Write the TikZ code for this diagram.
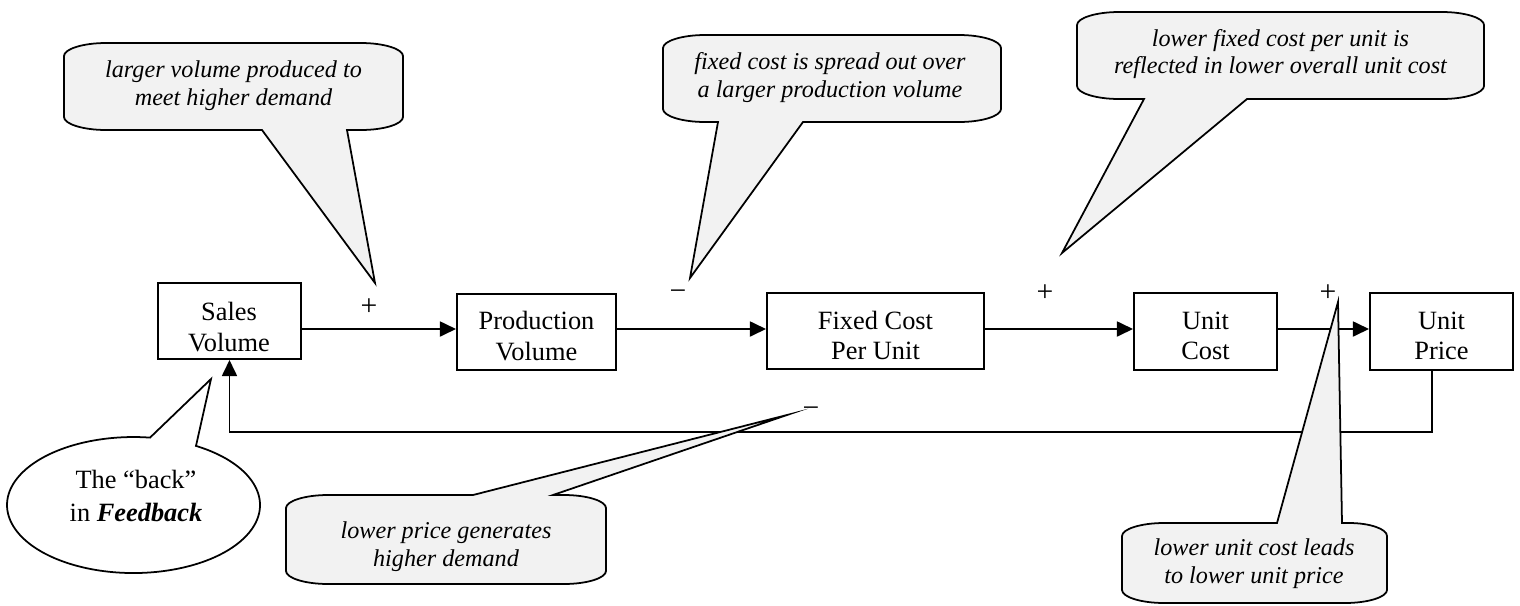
\documentclass[tikz,border=0pt]{standalone}
\usepackage{fontspec}
\setmainfont{Liberation Serif}
\usetikzlibrary{arrows.meta}
\definecolor{callfill}{HTML}{F2F2F2}
\begin{document}
\begin{tikzpicture}[x=0.455pt,y=-0.455pt,
  box/.style={draw,line width=0.9pt,inner sep=0pt},
  boxtext/.style={align=center,inner sep=0pt,font=\fontsize{12}{14}\selectfont},
  arr/.style={line width=0.9pt,-{Triangle[length=7.3pt,width=6.8pt]}},
  sign/.style={inner sep=0pt,font=\fontsize{13.5}{14}\selectfont},
  note/.style={align=center,inner sep=0pt,font=\fontsize{11}{12.65}\selectfont\itshape},
  bubble/.style={draw,line width=0.8pt,fill=callfill,line join=miter,miter limit=30},
  oval/.style={draw,line width=0.8pt,fill=white,line join=miter,miter limit=30},
]
\useasboundingbox (0,0) rectangle (1520,605);

% boxes
\node[box,minimum width=65.07pt,minimum height=34.58pt] (sales) at (229.5,321) {};
\node[box,minimum width=72.35pt,minimum height=34.58pt] (prod) at (536.5,332) {};
\node[box,minimum width=98.74pt,minimum height=34.58pt] (fixed) at (875.5,331) {};
\node[box,minimum width=65.07pt,minimum height=35.04pt] (ucost) at (1205.5,331.5) {};
\node[box,minimum width=65.07pt,minimum height=35.04pt] (uprice) at (1441.5,331.5) {};
\node[boxtext] (salesT) at (229,327) {Sales\\Volume};
\node[boxtext] (prodT) at (536.5,336) {Production\\Volume};
\node[boxtext] (fixedT) at (875.5,335.5) {Fixed Cost\\Per Unit};
\node[boxtext] (ucostT) at (1205.5,336) {Unit\\Cost};
\node[boxtext] (upriceT) at (1441.5,336) {Unit\\Price};

% connectors
\coordinate (ay) at (0,329);
\draw[arr] (sales.east |- ay) -- (prod.west |- ay);
\draw[arr] (prod.east |- ay) -- (fixed.west |- ay);
\draw[arr] (fixed.east |- ay) -- (ucost.west |- ay);
\draw[arr] (ucost.east |- ay) -- (uprice.west |- ay);
\coordinate (fbR) at (1432,432);
\coordinate (fbL) at (229.5,432);
\draw[arr] (uprice.south -| fbR) -- (fbR) -- (fbL) -- (sales.south);

% signs
\node[sign] (s1) at (369,307) {+};
\node[sign] (s2) at (678,295) {−};
\node[sign] (s3) at (1045,293) {+};
\node[sign] (s4) at (1328,293) {+};
\node[sign] (s5) at (811,412) {−};

% callout 1
\draw[bubble] (347,130) -- (361,130) .. controls (384,130) and (403,124) .. (403,117) -- (403,56) .. controls (403,49) and (384,43) .. (361,43) -- (106,43) .. controls (83,43) and (64,49) .. (64,56) -- (64,117) .. controls (64,124) and (83,130) .. (106,130) -- (262,130) -- (375,283) -- cycle;
\node[note] (n1) at (233.5,86) {larger volume produced to\\meet higher demand};

% callout 2
\draw[bubble] (803,122) -- (959,122) .. controls (982,122) and (1001,116) .. (1001,109) -- (1001,48) .. controls (1001,41) and (982,35) .. (959,35) -- (705,35) .. controls (682,35) and (663,41) .. (663,48) -- (663,109) .. controls (663,116) and (682,122) .. (705,122) -- (718,122) -- (690,278) -- cycle;
\node[note] (n2) at (830,77.5) {fixed cost is spread out over\\a larger production volume};

% callout 3
\draw[bubble] (1247,99) -- (1442,99) .. controls (1465,99) and (1484,93) .. (1484,86) -- (1484,25) .. controls (1484,18) and (1465,12) .. (1442,12) -- (1119,12) .. controls (1096,12) and (1077,18) .. (1077,25) -- (1077,86) .. controls (1077,93) and (1096,99) .. (1119,99) -- (1144,99) -- (1062,253) -- cycle;
\node[note] (n3) at (1280.5,54) {lower fixed cost per unit is\\reflected in lower overall unit cost};

% callout 4
\draw[bubble] (473,495) -- (787,415) -- (553,495) -- (564,495) .. controls (587,495) and (606,501) .. (606,508) -- (606,571) .. controls (606,578) and (587,584) .. (564,584) -- (328,584) .. controls (305,584) and (286,578) .. (286,571) -- (286,508) .. controls (286,501) and (305,495) .. (328,495) -- cycle;
\node[note] (n4) at (446,546.5) {lower price generates\\higher demand};

% callout 5
\draw[bubble] (1277,523) -- (1338,302) -- (1342,523) -- (1349,523) .. controls (1370,523) and (1387,529) .. (1387,536) -- (1387,590) .. controls (1387,597) and (1368,603) .. (1345,603) -- (1164,603) .. controls (1141,603) and (1122,597) .. (1122,590) -- (1122,536) .. controls (1122,529) and (1141,523) .. (1164,523) -- cycle;
\node[note] (n5) at (1254,563.5) {lower unit cost leads\\to lower unit price};

% oval callout
\draw[oval] (196,445.9) arc[x radius=126.5, y radius=68, start angle=-60.4, end angle=277.5] -- (211,379) -- cycle;
\node[align=center,inner sep=0pt,font=\fontsize{12}{14.6}\selectfont] (n6) at (136,496) {The “back”\\in \textbf{\textit{Feedback}}};
\end{tikzpicture}
\end{document}
